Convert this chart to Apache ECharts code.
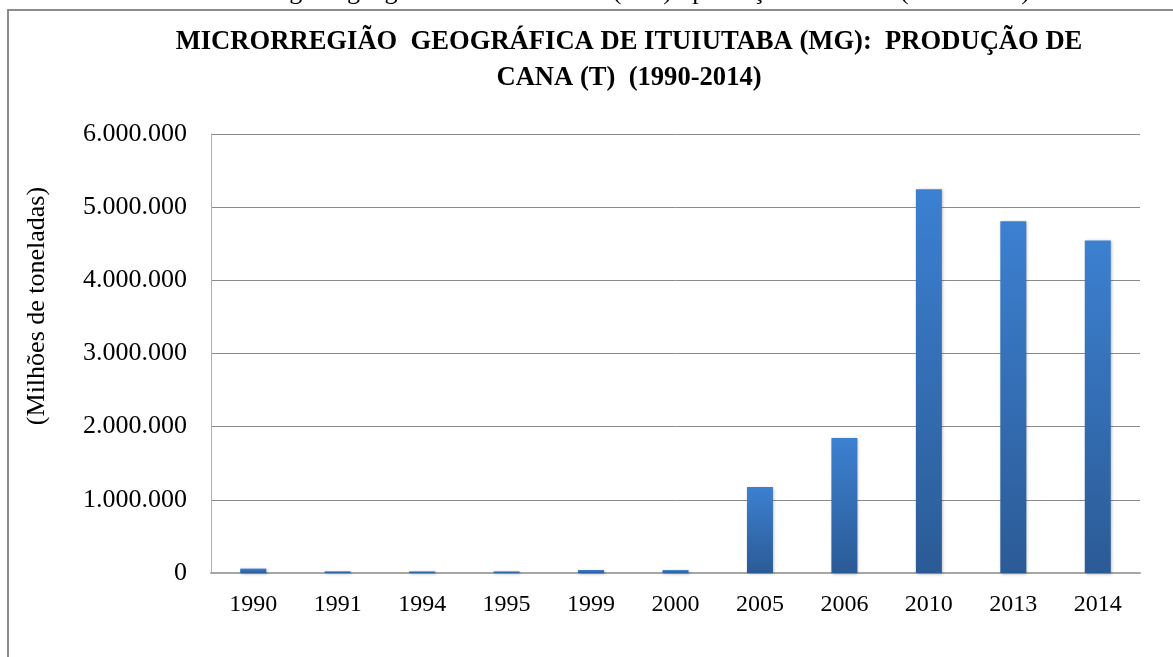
<!DOCTYPE html>
<html>
<head>
<meta charset="utf-8">
<title>Produção de cana - Ituiutaba</title>
<script src="https://cdn.jsdelivr.net/npm/echarts@6/dist/echarts.min.js"></script>
<style>
    html, body { margin: 0; padding: 0; background: #ffffff; }
    #chart { width: 1173px; height: 657px; }
</style>
</head>
<body>
<div id="chart"></div>
<script>
var anos = ['1990', '1991', '1994', '1995', '1999', '2000', '2005', '2006', '2010', '2013', '2014'];
var producao = [60000, 23000, 22000, 22000, 41000, 40000, 1176000, 1845000, 5245000, 4808000, 4545000];
var eixoY = [0, 1000000, 2000000, 3000000, 4000000, 5000000, 6000000];

var titulo = 'MICRORREGIÃO  GEOGRÁFICA DE ITUIUTABA (MG):  PRODUÇÃO DE\nCANA (T)  (1990-2014)';
var legenda = 'Microrregião  geográfica  de  Ituiutaba  (MG):  produção  de  cana  (1990-2014)';
var nomeY = '(Milhões de toneladas)';

var fonte = "'Liberation Serif', 'Times New Roman', serif";

// 6000000 -> 6.000.000
function formatar(v) {
    return String(v).replace(/\B(?=(\d{3})+(?!\d))/g, '.');
}

var chart = echarts.init(document.getElementById('chart'), null, { renderer: 'canvas' });

var option = {
    backgroundColor: '#ffffff',
    animation: false,
    title: {
        text: titulo,
        left: 629,
        top: 24,
        padding: 0,
        textAlign: 'center',
        textStyle: {
            fontFamily: fonte,
            fontWeight: 'bold',
            fontSize: 26.6,
            lineHeight: 36,
            color: '#000000'
        }
    },
    graphic: [
        {
            // moldura do gráfico
            type: 'rect',
            silent: true,
            shape: { x: 8, y: 10, width: 1200, height: 700 },
            style: { fill: 'none', stroke: '#8c8c8c', lineWidth: 2 }
        },
        {
            // legenda da figura, cortada no topo
            type: 'text',
            silent: true,
            x: 1030,
            y: 5,
            style: {
                text: legenda,
                font: '26px ' + fonte,
                fill: '#000000',
                align: 'right',
                verticalAlign: 'bottom'
            }
        },
        {
            // nome do eixo Y
            type: 'text',
            silent: true,
            x: 37,
            y: 306,
            rotation: Math.PI / 2,
            style: {
                text: nomeY,
                font: '26px ' + fonte,
                fill: '#000000',
                align: 'center',
                verticalAlign: 'middle'
            }
        }
    ],
    grid: {
        left: 211,
        right: 33,
        top: 134,
        bottom: 84,
        containLabel: false
    },
    xAxis: {
        type: 'category',
        data: anos,
        axisLine: { lineStyle: { color: '#a6a6a6', width: 2 } },
        axisTick: { show: false },
        axisLabel: {
            margin: 20,
            fontFamily: fonte,
            fontSize: 24,
            color: '#000000'
        }
    },
    yAxis: {
        type: 'value',
        min: eixoY[0],
        max: eixoY[eixoY.length - 1],
        interval: eixoY[1] - eixoY[0],
        axisLine: { show: true, lineStyle: { color: '#b0b0b0', width: 1 } },
        axisTick: { show: false },
        splitLine: { lineStyle: { color: '#8a8a8a', width: 1 } },
        axisLabel: {
            margin: 24,
            fontFamily: fonte,
            fontSize: 26,
            color: '#000000',
            formatter: formatar
        }
    },
    series: [
        {
            type: 'bar',
            data: producao,
            barWidth: 26,
            itemStyle: {
                color: new echarts.graphic.LinearGradient(0, 0, 0, 1, [
                    { offset: 0, color: '#3c80d1' },
                    { offset: 1, color: '#2b5b96' }
                ]),
                shadowColor: 'rgba(0, 0, 0, 0.3)',
                shadowBlur: 3,
                shadowOffsetX: 1,
                shadowOffsetY: 1
            }
        }
    ]
};

chart.setOption(option);
</script>
</body>
</html>
